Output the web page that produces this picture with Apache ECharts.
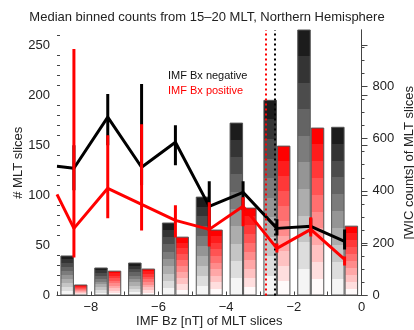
<!DOCTYPE html>
<html>
<head>
<meta charset="utf-8">
<title>Median binned counts</title>
<script src="https://cdn.jsdelivr.net/npm/echarts@6.0.0/dist/echarts.min.js"></script>
<style>
  html, body { margin: 0; padding: 0; background: #fff; }
  #chart { width: 414px; height: 330px; }
</style>
</head>
<body>
<div id="chart"></div>
<script>
// bin centres of IMF Bz (nT)
const bzBins = [-8.5, -7.5, -6.5, -5.5, -4.5, -3.5, -2.5, -1.5, -0.5];

// # MLT slices (left axis) and spread
const negSlices = [127, 178, 128, 153, 89, 103, 67, 69, 54];
const negLow    = [105, 150, 110, 130, 65, 85, 60, 62, 46];
const negHigh   = [150, 201, 211, 170, 114, 114, 76, 77, 66];
const posSlices = [67, 107, 91, 75, 66, 89, 47, 66, 36];
const posLow    = [38, 77, 65, 58, 49, 69, 43, 59, 30];
const posHigh   = [246, 160, 171, 90, 93, 98, 52, 78, 39];

// lines come in from the left edge of the plot
const startBz = -9;
const negStart = 129;
const posStart = 101;

// WIC counts (right axis)
const negCounts = [153, 107, 126, 279, 378, 661, 748, 1100, 645];
const posCounts = [42, 95, 103, 225, 252, 336, 573, 642, 267];

// median Bz of the two groups
const medianNeg = -2.57;
const medianPos = -2.83;

// tick labels
const xLabels = [-8, -6, -4, -2, 0];
const leftTicks = [0, 50, 100, 150, 200, 250];
const rightTicks = [0, 200, 400, 600, 800];

const FONT = '"Liberation Sans", Arial, Helvetica, sans-serif';
const TXT = '#222';

// stepped gradient like the IDL colour bands
function bandGradient(top, bottom, n) {
  const stops = [];
  for (let i = 0; i < n; i++) {
    const t = i / (n - 1);
    const c = 'rgb(' + top.map((v, k) => Math.round(v + (bottom[k] - v) * t)).join(',') + ')';
    stops.push({ offset: i / n, color: c });
    stops.push({ offset: (i + 1) / n, color: c });
  }
  return new echarts.graphic.LinearGradient(0, 0, 0, 1, stops);
}

function minorList(max, step, major) {
  const out = [];
  for (let v = step; v <= max; v += step) {
    if (v % major !== 0) out.push(v);
  }
  return out;
}

function errBars(low, high, color) {
  return {
    type: 'custom',
    yAxisIndex: 0,
    clip: true,
    z: color === 'red' ? 6 : 4,
    data: bzBins.map((b, i) => [b, low[i], high[i]]),
    renderItem: function (params, api) {
      const p1 = api.coord([api.value(0), api.value(1)]);
      const p2 = api.coord([api.value(0), api.value(2)]);
      return {
        type: 'line',
        shape: { x1: p1[0], y1: p1[1], x2: p2[0], y2: p2[1] },
        style: { stroke: color, lineWidth: 3 }
      };
    }
  };
}

const myChart = echarts.init(document.getElementById('chart'), null, { renderer: 'canvas' });

const option = {
  animation: false,
  textStyle: { fontFamily: FONT, color: TXT },
  title: {
    text: 'Median binned counts from 15\u201320 MLT, Northern Hemisphere',
    left: 'center',
    top: 6,
    textStyle: { fontSize: 13, fontWeight: 'normal', color: TXT, fontFamily: FONT }
  },
  grid: { left: 57, right: 52.5, top: 30, bottom: 34.5, outerBoundsMode: 'none' },
  xAxis: {
    type: 'value',
    min: -9,
    max: 0,
    interval: 1,
    name: 'IMF Bz [nT] of MLT slices',
    nameLocation: 'middle',
    nameGap: 19,
    nameMoveOverlap: false,
    nameTextStyle: { fontSize: 13, color: TXT, fontFamily: FONT },
    axisLine: { lineStyle: { color: '#444', width: 1 } },
    axisTick: { inside: true, length: 4, lineStyle: { color: '#444' } },
    axisLabel: {
      customValues: xLabels,
      margin: 5,
      fontSize: 13,
      color: TXT,
      formatter: v => String(v).replace('-', '\u2212')
    },
    splitLine: { show: false }
  },
  yAxis: [
    {
      type: 'value',
      position: 'left',
      min: 0,
      max: 265,
      name: '# MLT slices',
      nameLocation: 'middle',
      nameGap: 32,
      nameMoveOverlap: false,
      nameTextStyle: { fontSize: 13, color: TXT, fontFamily: FONT },
      axisLine: { show: true, lineStyle: { color: '#444' } },
      axisTick: { inside: true, length: 6, customValues: leftTicks, lineStyle: { color: '#444' } },
      axisLabel: { customValues: leftTicks, fontSize: 13, color: TXT, margin: 7 },
      splitLine: { show: false }
    },
    {
      type: 'value',
      position: 'right',
      min: 0,
      max: 1015,
      name: '[WIC counts] of MLT slices',
      nameLocation: 'middle',
      nameGap: 41,
      nameRotate: 90,
      nameMoveOverlap: false,
      nameTextStyle: { fontSize: 13, color: TXT, fontFamily: FONT },
      axisLine: { show: true, lineStyle: { color: '#444' } },
      axisTick: { length: 6, customValues: rightTicks, lineStyle: { color: '#444' } },
      axisLabel: { customValues: rightTicks, fontSize: 13, color: TXT, margin: 11 },
      splitLine: { show: false }
    },
    {
      type: 'value',
      position: 'left',
      min: 0,
      max: 265,
      axisLine: { show: false },
      axisTick: { inside: true, length: 3, customValues: minorList(265, 10, 50), lineStyle: { color: '#444' } },
      axisLabel: { show: false },
      splitLine: { show: false }
    },
    {
      type: 'value',
      position: 'right',
      min: 0,
      max: 1015,
      axisLine: { show: false },
      axisTick: { length: 3, customValues: minorList(1015, 50, 200), lineStyle: { color: '#444' } },
      axisLabel: { show: false },
      splitLine: { show: false }
    }
  ],
  graphic: [
    { type: 'text', left: 168, top: 70, style: { text: 'IMF Bx negative', fill: '#111', font: '11px ' + FONT } },
    { type: 'text', left: 168, top: 85, style: { text: 'IMF Bx positive', fill: '#ff0000', font: '11px ' + FONT } }
  ],
  series: [
    {
      type: 'bar',
      name: 'negative counts',
      yAxisIndex: 1,
      barWidth: 13.5,
      barGap: '0%',
      z: 1,
      data: bzBins.map((b, i) => [b, negCounts[i]]),
      itemStyle: {
        color: bandGradient([28, 28, 28], [245, 245, 245], 10),
        borderColor: '#555',
        borderWidth: 1
      }
    },
    {
      type: 'bar',
      name: 'positive counts',
      yAxisIndex: 1,
      barWidth: 13.5,
      barGap: '0%',
      z: 1,
      data: bzBins.map((b, i) => [b, posCounts[i]]),
      itemStyle: {
        color: bandGradient([255, 0, 0], [255, 250, 250], 10),
        borderColor: '#555',
        borderWidth: 1
      }
    },
    {
      type: 'line',
      name: 'IMF Bx negative',
      yAxisIndex: 0,
      z: 3,
      symbol: 'none',
      data: [[startBz, negStart]].concat(bzBins.map((b, i) => [b, negSlices[i]])),
      lineStyle: { color: '#000', width: 3 },
      markLine: {
        silent: true,
        symbol: 'none',
        label: { show: false },
        data: [
          { xAxis: medianPos, lineStyle: { color: '#ff0000', type: [2, 3], width: 2 } },
          { xAxis: medianNeg, lineStyle: { color: '#000', type: [2, 3], width: 2 } }
        ]
      }
    },
    errBars(negLow, negHigh, '#000'),
    {
      type: 'line',
      name: 'IMF Bx positive',
      yAxisIndex: 0,
      z: 5,
      symbol: 'none',
      data: [[startBz, posStart]].concat(bzBins.map((b, i) => [b, posSlices[i]])),
      lineStyle: { color: '#ff0000', width: 3 }
    },
    errBars(posLow, posHigh, 'red')
  ]
};

myChart.setOption(option);
</script>
</body>
</html>
